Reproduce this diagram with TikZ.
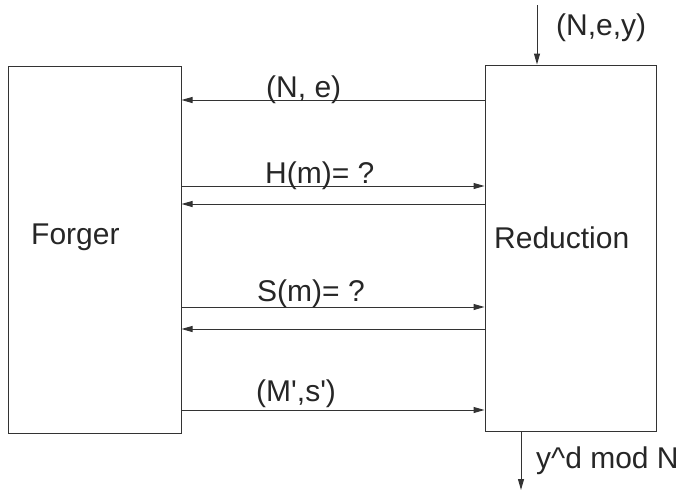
\documentclass[tikz,border=0pt]{standalone}
\usepackage{fontspec}
\setmainfont{Liberation Sans}
\usetikzlibrary{arrows.meta}

\tikzset{
  party/.style={draw=black!80, line width=1pt, inner sep=0pt},
  msg/.style={draw=black!80, line width=1pt, -{Triangle[length=11pt,width=6pt]}},
  txt/.style={anchor=base west, inner sep=0pt, text=black!85, font=\fontsize{30}{36}\selectfont}
}

\begin{document}
\begin{tikzpicture}[x=1pt,y=-1pt]
  \useasboundingbox (0,0) rectangle (683,491);
  \node[party, minimum width=173pt, minimum height=367pt] (forger) at (94.5,249.5) {};
  \node[party, minimum width=171pt, minimum height=366pt] (reduction) at (570.5,248) {};
  \node[txt] (forgerlbl) at (31,244) {Forger};
  \node[txt] (reductionlbl) at (494,248) {Reduction};

  \coordinate (input) at (537,5);
  \draw[msg] (input) -- (input |- reduction.north);
  \node[txt] (nEY) at (556,35) {(N,e,y)};

  \draw[msg] (reduction.west |- 0,100) -- (forger.east |- 0,100);
  \node[txt] (nE) at (266,97) {(N, e)};

  \draw[msg] (forger.east |- 0,186) -- (reduction.west |- 0,186);
  \node[txt] (hashQ) at (265,183) {H(m)= ?};
  \draw[msg] (reduction.west |- 0,204) -- (forger.east |- 0,204);

  \draw[msg] (forger.east |- 0,307) -- (reduction.west |- 0,307);
  \node[txt] (signQ) at (257,301) {S(m)= ?};
  \draw[msg] (reduction.west |- 0,329) -- (forger.east |- 0,329);

  \draw[msg] (forger.east |- 0,410) -- (reduction.west |- 0,410);
  \node[txt] (forgery) at (256,401) {(M\textquotesingle,s\textquotesingle)};

  \coordinate (output) at (521,490);
  \draw[msg] (output |- reduction.south) -- (output);
  \node[txt] (root) at (536,468) {y\^{}d mod N};
\end{tikzpicture}
\end{document}
